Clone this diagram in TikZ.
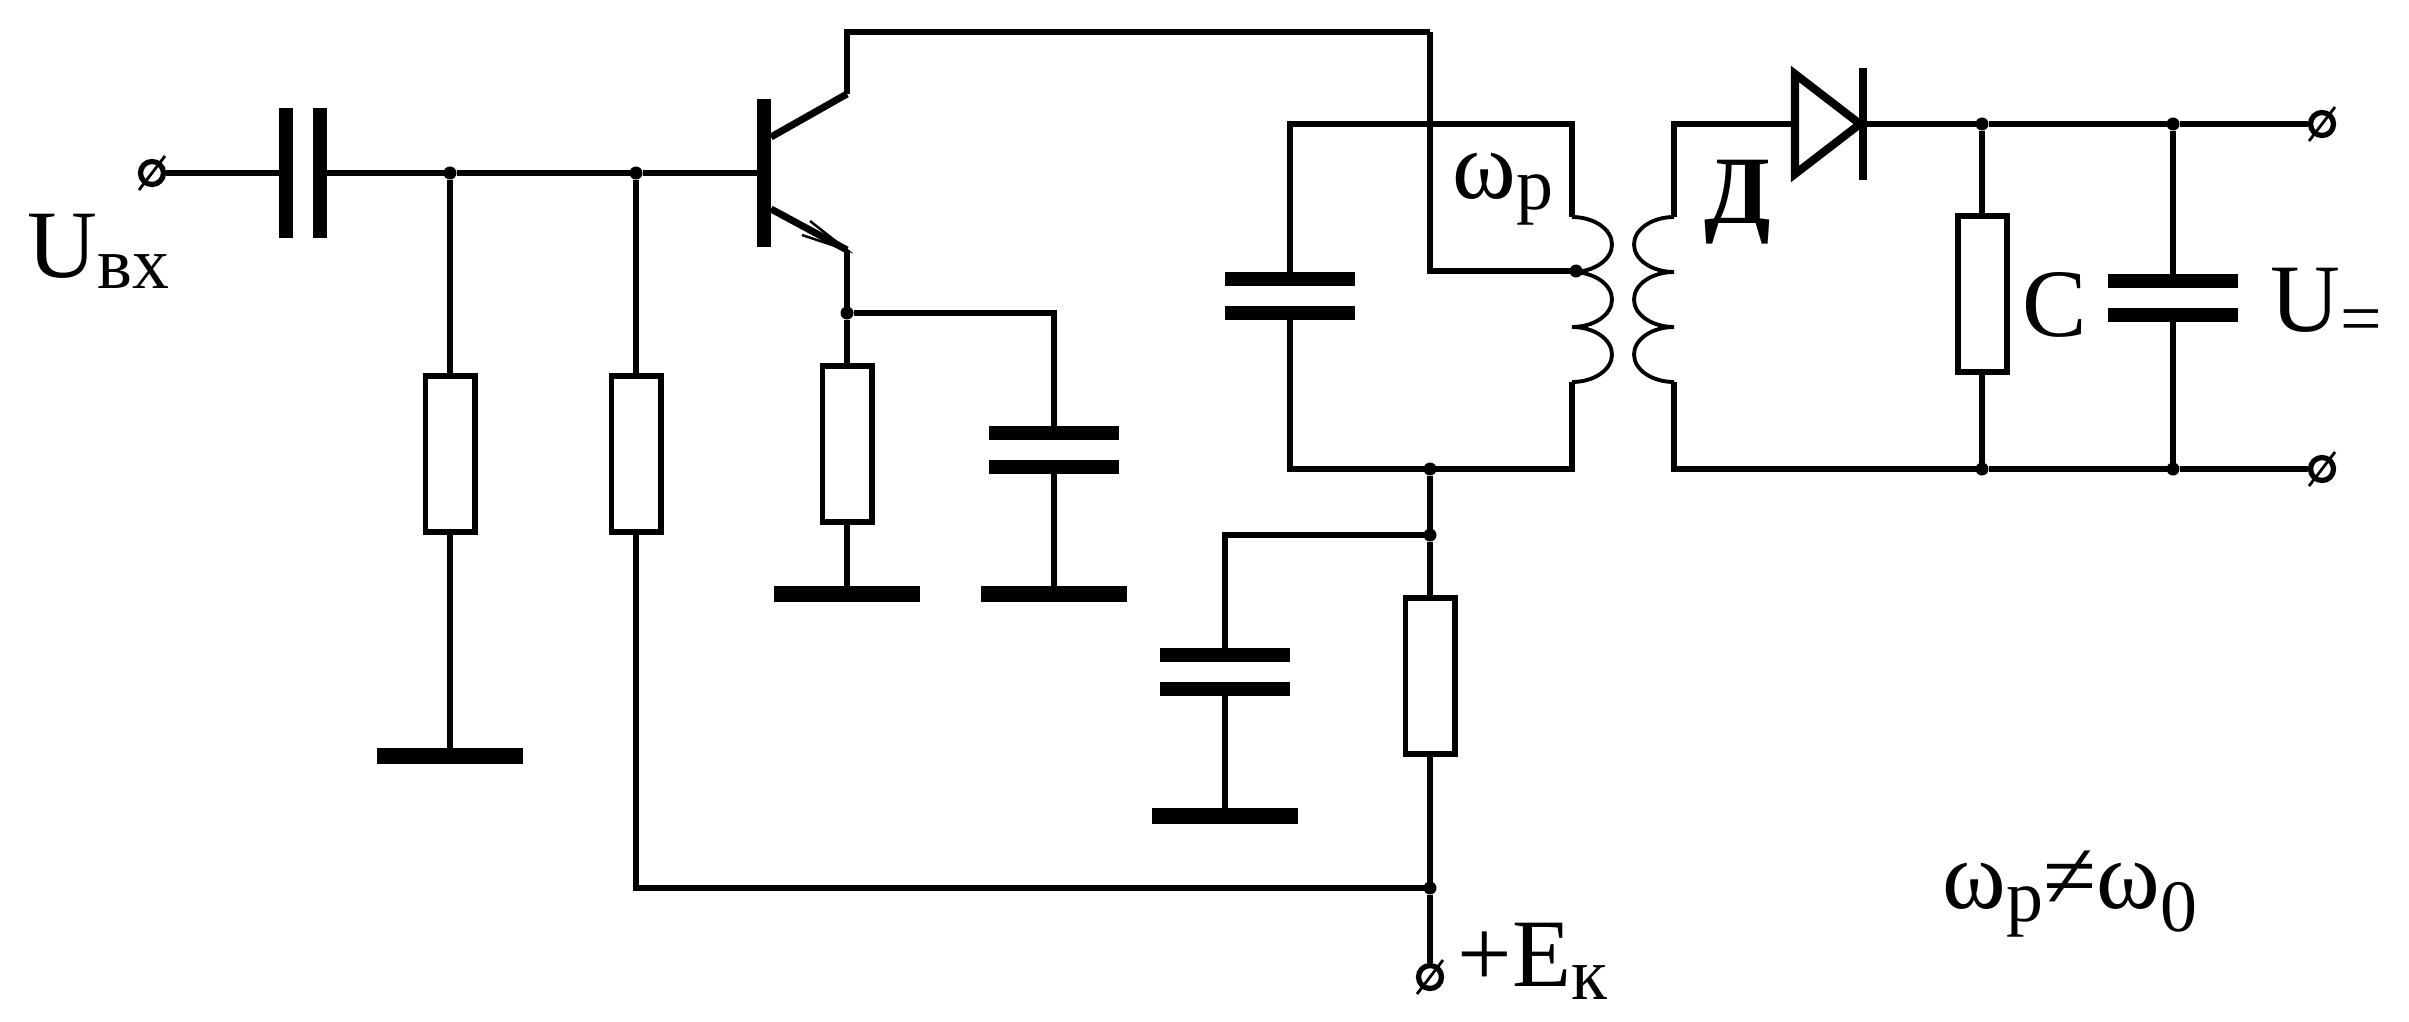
\documentclass[tikz,border=0pt]{standalone}
\usepackage{fontspec}
\setmainfont{Liberation Serif}
\usetikzlibrary{calc}
\newcommand{\bigt}{\fontsize{27.5pt}{27.5pt}\selectfont}
\newcommand{\subt}[2][3.3pt]{\raisebox{-#1}{\fontsize{21pt}{21pt}\selectfont #2}}
\tikzset{
	wire/.style={line width=1.7pt, line join=miter},
	coil/.style={line width=1.1pt},
	res/.style={rectangle, draw, line width=1.7pt, inner sep=0pt, minimum width=0.49cm, minimum height=1.56cm},
	plate/.style={rectangle, fill=black, inner sep=0pt, outer sep=0pt, minimum width=1.29cm, minimum height=0.14cm},
	vplate/.style={rectangle, fill=black, inner sep=0pt, outer sep=0pt, minimum width=0.14cm, minimum height=1.29cm},
	gnd/.style={rectangle, fill=black, inner sep=0pt, outer sep=0pt, minimum width=1.46cm, minimum height=0.16cm},
	dot/.style={circle, fill=black, inner sep=0pt, outer sep=0pt, minimum size=0.13cm},
	term/.style={circle, draw, line width=1.5pt, fill=white, inner sep=0pt, minimum size=0.23cm},
	lbl/.style={inner sep=0pt, anchor=base west, font=\bigt},
}
\begin{document}
\begin{tikzpicture}[x=0.01cm, y=-0.01cm]
	\useasboundingbox (0,0) rectangle (2409,1021);

	% input side
	\node[term] (tin) at (152,173) {};
	\node[vplate] (cina) at (286,173) {};
	\node[vplate] (cinb) at (320,173) {};
	\node[dot] (ja) at (450,173) {};
	\node[dot] (jb) at (636,173) {};
	\node[res] (ra) at (450,454) {};
	\node[res] (rb) at (636,454) {};
	\node[gnd] (ga) at (450,756) {};
	\draw[wire] (tin) -- (cina);
	\draw[wire] (cinb) -- (ja) -- (jb);
	\draw[wire] (ja) -- (ra);
	\draw[wire] (ra) -- (ga);
	\draw[wire] (jb) -- (rb);

	% transistor
	\node[rectangle, fill=black, inner sep=0pt, outer sep=0pt, minimum width=0.14cm, minimum height=1.48cm] (base) at (764,173) {};
	\coordinate (colb) at (771,137);
	\coordinate (colk) at (847,94);
	\coordinate (colt) at (847,32);
	\coordinate (top) at (1430,32);
	\coordinate (emb) at (771,209);
	\coordinate (eme) at (847,250);
	\coordinate (barba) at (810,221);
	\coordinate (barbb) at (802,235);
	\draw[wire] (jb) -- (base);
	\draw[line width=2pt] (colb) -- (colk);
	\draw[wire] (colk) -- (colt) -- (top);
	\draw[line width=2pt] (emb) -- (eme);
	\draw[line width=0.7pt] (barba) -- (eme) -- (barbb);

	% emitter branch
	\node[dot] (je) at (847,313) {};
	\node[res] (rc) at (847,444) {};
	\node[gnd] (gc) at (847,594) {};
	\coordinate (jer) at (1054,313);
	\node[plate] (cea) at (1054,433) {};
	\node[plate] (ceb) at (1054,467) {};
	\node[gnd] (gd) at (1054,594) {};
	\draw[wire] (eme) -- (je) -- (rc);
	\draw[wire] (rc) -- (gc);
	\draw[wire] (je) -- (jer) -- (cea);
	\draw[wire] (ceb) -- (gd);

	% tank circuit
	\coordinate (lta) at (1290,124);
	\coordinate (ltb) at (1572,124);
	\coordinate (lba) at (1290,469);
	\coordinate (lbb) at (1572,469);
	\coordinate (lca) at (1572,217);
	\coordinate (lcb) at (1572,382);
	\coordinate (tapc) at (1430,271);
	\node[dot] (tap) at (1576,271) {};
	\node[dot] (jl) at (1430,469) {};
	\node[plate] (cla) at (1290,279) {};
	\node[plate] (clb) at (1290,313) {};
	\draw[wire] (cla) -- (lta) -- (ltb) -- (lca);
	\draw[wire] (clb) -- (lba) -- (lbb) -- (lcb);
	\draw[wire] (top) -- (tapc) -- (tap);
	\draw[coil] (lca) arc[start angle=-90, end angle=90, x radius=40, y radius=27.5]
		arc[start angle=-90, end angle=90, x radius=40, y radius=27.5]
		arc[start angle=-90, end angle=90, x radius=40, y radius=27.5];

	% secondary and output
	\coordinate (rta) at (1674,124);
	\coordinate (rba) at (1674,469);
	\coordinate (rca) at (1674,217);
	\coordinate (rcb) at (1674,382);
	\coordinate (da) at (1795,74);
	\coordinate (db) at (1795,174);
	\coordinate (dk) at (1860,124);
	\coordinate (dka) at (1863,68);
	\coordinate (dkb) at (1863,180);
	\coordinate (dl) at (1795,124);
	\node[dot] (jc) at (1982,124) {};
	\node[dot] (jd) at (2173,124) {};
	\node[dot] (jf) at (1982,469) {};
	\node[dot] (jg) at (2173,469) {};
	\node[term] (tpa) at (2322,124) {};
	\node[term] (tpb) at (2322,469) {};
	\node[res] (rd) at (1982,294) {};
	\node[plate] (coa) at (2173,281) {};
	\node[plate] (cob) at (2173,315) {};
	\draw[wire] (rca) -- (rta) -- (dl);
	\draw[wire] (rcb) -- (rba) -- (jf) -- (jg) -- (tpb);
	\draw[wire] (dk) -- (jc) -- (jd) -- (tpa);
	\draw[wire] (jc) -- (rd);
	\draw[wire] (rd) -- (jf);
	\draw[wire] (jd) -- (coa);
	\draw[wire] (cob) -- (jg);
	\draw[coil] (rca) arc[start angle=-90, end angle=-270, x radius=40, y radius=27.5]
		arc[start angle=-90, end angle=-270, x radius=40, y radius=27.5]
		arc[start angle=-90, end angle=-270, x radius=40, y radius=27.5];
	\draw[line width=2.3pt] (da) -- (db) -- (dk) -- cycle;
	\draw[line width=2.3pt] (dka) -- (dkb);

	% supply branch
	\node[dot] (jh) at (1430,535) {};
	\node[dot] (ji) at (1430,888) {};
	\coordinate (jhl) at (1225,535);
	\coordinate (rbc) at (636,888);
	\node[res] (re) at (1430,676) {};
	\node[plate] (csa) at (1225,655) {};
	\node[plate] (csb) at (1225,689) {};
	\node[gnd] (gs) at (1225,816) {};
	\node[term] (tek) at (1430,977) {};
	\draw[wire] (jl) -- (jh) -- (re);
	\draw[wire] (re) -- (ji) -- (tek);
	\draw[wire] (rb) -- (rbc) -- (ji);
	\draw[wire] (jh) -- (jhl) -- (csa);
	\draw[wire] (csb) -- (gs);

	% terminal slashes
	\foreach \t in {tin,tpa,tpb,tek}
		\draw[line width=0.8pt] ($(\t)+(-13,17)$) -- ($(\t)+(13,-17)$);

	% labels
	\node[lbl] (uin) at (27,277) {U\subt{вх}};
	\node[lbl] (wp) at (1452,198) {ω\subt{р}};
	\node[lbl] (dd) at (1704,223) {\bfseries Д};
	\node[lbl] (cc) at (2022,336) {С};
	\node[lbl] (uo) at (2270,331) {U\subt[3.6pt]{=}};
	\node[lbl] (ek) at (1457,986) {+E\subt[3.7pt]{к}};
	\node[lbl] (wpo) at (1942,908) {ω\subt[3.7pt]{р}≠ω\subt[6.8pt]{0}};
\end{tikzpicture}
\end{document}
